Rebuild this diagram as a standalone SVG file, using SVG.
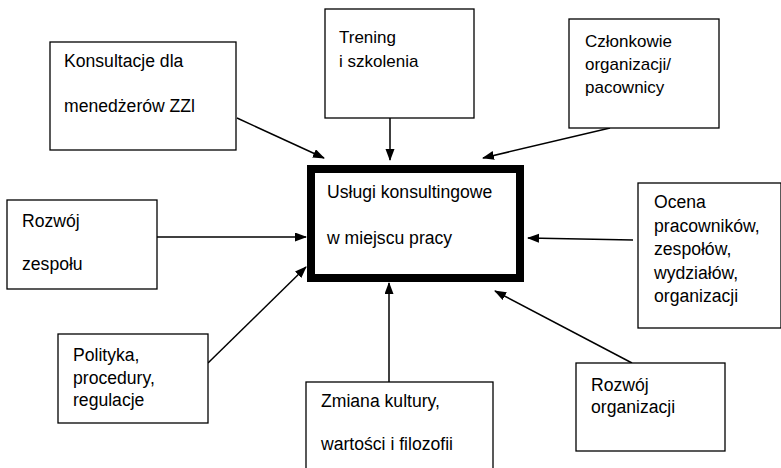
<svg xmlns="http://www.w3.org/2000/svg" width="781" height="468" viewBox="0 0 781 468">
<style>
  .box { fill: #fff; stroke: #000; stroke-width: 1.3; }
  .main { fill: #fff; stroke: #000; stroke-width: 8; }
  .t { font-family: "Liberation Sans", Arial, sans-serif; font-size: 17px; fill: #000; }
  .k { font-family: "Liberation Sans", Arial, sans-serif; font-size: 17.6px; fill: #000; }
  .c { stroke: #000; stroke-width: 1.5; fill: none; marker-end: url(#ah); }
</style>
<defs>
  <marker id="ah" markerUnits="userSpaceOnUse" markerWidth="12" markerHeight="10" refX="11" refY="4.5" orient="auto">
    <path d="M0,0 L12,4.5 L0,9 z" fill="#000"/>
  </marker>
</defs>
<rect width="781" height="468" fill="#fff"/>
<g id="connectors">
  <line class="c" x1="237" y1="118" x2="324" y2="158"/>
  <line class="c" x1="390" y1="118" x2="390" y2="160"/>
  <line class="c" x1="610" y1="128" x2="483" y2="158"/>
  <line class="c" x1="157" y1="237" x2="306" y2="237"/>
  <line class="c" x1="208" y1="363" x2="306" y2="267"/>
  <line class="c" x1="389" y1="382" x2="389" y2="283"/>
  <line class="c" x1="633" y1="240" x2="528" y2="238"/>
  <line class="c" x1="632" y1="363" x2="495" y2="291"/>
</g>
<g id="main">
  <rect class="main" x="311" y="169" width="209" height="109"/>
  <text class="k" x="327" y="198" font-size="18">Usługi konsultingowe</text>
  <text class="k" x="327" y="244" font-size="18">w miejscu pracy</text>
</g>
<g id="konsultacje">
  <rect class="box" x="50" y="42" width="186" height="108"/>
  <text class="k" x="64" y="67">Konsultacje dla</text>
  <text class="k" x="64" y="112">menedżerów ZZl</text>
</g>
<g id="trening">
  <rect class="box" x="325" y="9" width="149" height="109"/>
  <text class="t" x="339" y="43">Trening</text>
  <text class="t" x="339" y="67">i szkolenia</text>
</g>
<g id="czlonkowie">
  <rect class="box" x="569" y="19" width="150" height="109"/>
  <text class="t" x="585" y="47">Członkowie</text>
  <text class="t" x="585" y="70">organizacji/</text>
  <text class="t" x="585" y="93">pacownicy</text>
</g>
<g id="rozwoj-zespolu">
  <rect class="box" x="7" y="200" width="150" height="89"/>
  <text class="k" x="22" y="227">Rozwój</text>
  <text class="k" x="22" y="270">zespołu</text>
</g>
<g id="polityka">
  <rect class="box" x="58" y="334" width="150" height="89"/>
  <text class="k" x="73" y="361">Polityka,</text>
  <text class="k" x="73" y="384">procedury,</text>
  <text class="k" x="73" y="406">regulacje</text>
</g>
<g id="zmiana">
  <rect class="box" x="306" y="382" width="187" height="100"/>
  <text class="k" x="321" y="407">Zmiana kultury,</text>
  <text class="k" x="321" y="450">wartości i filozofii</text>
</g>
<g id="ocena">
  <rect class="box" x="638" y="183" width="143" height="145"/>
  <text class="k" x="654" y="208">Ocena</text>
  <text class="k" x="654" y="232">pracowników,</text>
  <text class="k" x="654" y="255">zespołów,</text>
  <text class="k" x="654" y="279">wydziałów,</text>
  <text class="k" x="654" y="302">organizacji</text>
</g>
<g id="rozwoj-organizacji">
  <rect class="box" x="576" y="363" width="149" height="88"/>
  <text class="k" x="591" y="391">Rozwój</text>
  <text class="k" x="591" y="413">organizacji</text>
</g>
</svg>
